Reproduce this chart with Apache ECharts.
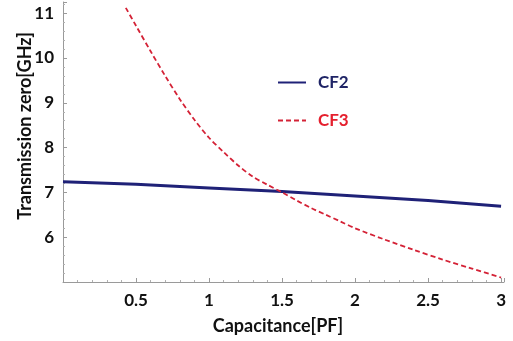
<!DOCTYPE html>
<html>
<head>
<meta charset="utf-8">
<script src="https://cdn.jsdelivr.net/npm/echarts@6/dist/echarts.min.js"></script>
<style>html,body{margin:0;padding:0;background:#fff}#c{width:513px;height:341px}</style>
</head>
<body>
<div id="c"></div>
<script>
const cf2X = [0, 0.5, 1, 1.5, 2, 2.5, 3];
const cf2Y = [7.24, 7.18, 7.1, 7.02, 6.92, 6.82, 6.69];
const cf3X = [0.43, 0.5, 0.6, 0.7, 0.8, 0.9, 1.0, 1.1, 1.2, 1.3, 1.4, 1.5, 1.6, 1.7, 1.8, 1.9, 2.0, 2.2, 2.4, 2.6, 2.8, 3.0];
const cf3Y = [11.12, 10.72, 10.15, 9.6, 9.08, 8.62, 8.22, 7.9, 7.6, 7.35, 7.17, 7.0, 6.82, 6.65, 6.5, 6.35, 6.2, 5.95, 5.72, 5.5, 5.3, 5.1];
const xTickLabels = ['0.5', '1', '1.5', '2', '2.5', '3'];
const yTickLabels = ['6', '7', '8', '9', '10', '11'];
const seriesNames = ['CF2', 'CF3'];
const xTitle = 'Capacitance[PF]';
const yTitle = 'Transmission zero[GHz]';

const FONT = 'Lato';
const chart = echarts.init(document.getElementById('c'), null, {renderer: 'canvas'});
const axisCommon = {
  axisLine: {show: true, onZero: false, lineStyle: {color: '#9a9a9a', width: 1}},
  axisTick: {show: true, inside: true, length: 4, lineStyle: {color: '#9a9a9a'}},
  minorTick: {show: true, splitNumber: 5, length: 2, lineStyle: {color: '#b0b0b0'}},
  splitLine: {show: false},
  axisLabel: {color: '#111', fontFamily: FONT, fontWeight: 'bold', fontSize: 17}
};
chart.setOption({
  animation: false,
  backgroundColor: '#fff',
  grid: {left: 63, right: 9, top: 2, bottom: 59},
  xAxis: Object.assign({}, axisCommon, {
    type: 'value', min: 0, max: 3.02, interval: 0.5,
    axisLabel: Object.assign({}, axisCommon.axisLabel, {margin: 10,
      formatter: v => { const s = String(+v.toFixed(2)); return xTickLabels.includes(s) ? s : ''; }})
  }),
  yAxis: Object.assign({}, axisCommon, {
    type: 'value', min: 5, max: 11.25, interval: 1,
    axisLabel: Object.assign({}, axisCommon.axisLabel, {margin: 9,
      formatter: v => { const s = String(+v.toFixed(2)); return yTickLabels.includes(s) ? s : ''; }})
  }),
  legend: {
    orient: 'vertical', left: 277, top: 74, padding: 0, itemWidth: 28, itemHeight: 14, itemGap: 21,
    itemStyle: {opacity: 0, borderWidth: 0},
    data: [
      {name: seriesNames[0], textStyle: {color: '#1f2466'}},
      {name: seriesNames[1], textStyle: {color: '#e5202e'}}
    ],
    textStyle: {fontFamily: FONT, fontWeight: 'bold', fontSize: 17, padding: [0, 0, 0, 7]}
  },
  graphic: [
    {type: 'text', x: 278, y: 326, style: {text: xTitle, fill: '#111', font: 'bold 18px ' + FONT, align: 'center', verticalAlign: 'middle'}},
    {type: 'text', x: 25, y: 126, rotation: Math.PI / 2, style: {text: yTitle, fill: '#111', font: 'bold 18px ' + FONT, align: 'center', verticalAlign: 'middle'}}
  ],
  series: [
    {name: seriesNames[0], type: 'line', showSymbol: false, symbol: 'none',
     data: cf2X.map((x, i) => [x, cf2Y[i]]),
     lineStyle: {color: '#1f2177', width: 3}, itemStyle: {color: '#1f2177'}},
    {name: seriesNames[1], type: 'line', showSymbol: false, symbol: 'none', smooth: 0.3,
     data: cf3X.map((x, i) => [x, cf3Y[i]]),
     lineStyle: {color: '#d42236', width: 1.8, type: [5, 3]}, itemStyle: {color: '#d42236'}}
  ]
});
</script>
</body>
</html>
